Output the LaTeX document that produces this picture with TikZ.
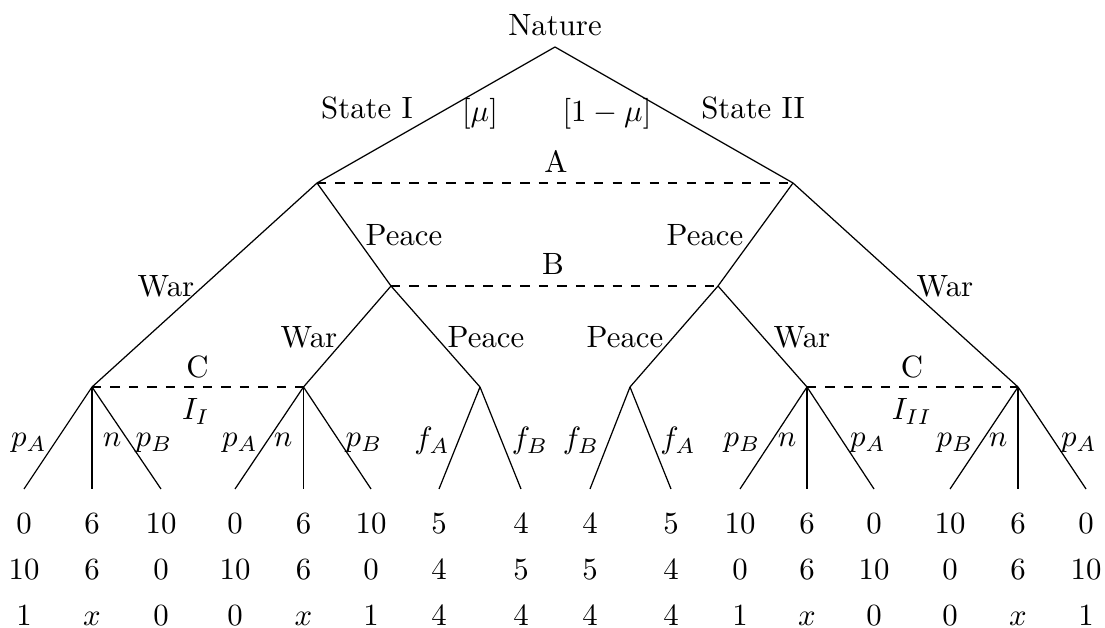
\documentclass[tikz,border=0pt]{standalone}
\usepackage{amsmath}
\usetikzlibrary{positioning}

\begin{document}
\begin{tikzpicture}[
    x=0.3247pt, y=-0.3247pt,
    branch/.style={draw},
    infoset/.style={draw, dashed},
    lbl/.style={anchor=base, inner sep=0pt},
    pay/.style={anchor=base, inner sep=0pt},
]
\useasboundingbox (0,0) rectangle (1105,628);

% decision nodes
\coordinate (root) at (555,47);
\coordinate (aL) at (317,183);
\coordinate (aR) at (793,183);
\coordinate (bL) at (391,286);
\coordinate (bR) at (718,286);
\coordinate (cL) at (92,387);
\coordinate (wL) at (303.5,387);
\coordinate (pL) at (480,387);
\coordinate (pR) at (630,387);
\coordinate (wR) at (807,387);
\coordinate (cR) at (1018,387);

\node[above=0pt of root] (nature) {Nature};

% branches
\foreach \p/\c in {root/aL, root/aR, aL/cL, aL/bL, aR/bR, aR/cR, bL/wL, bL/pL, bR/pR, bR/wR}
    \draw[branch] (\p) -- (\c);

% information sets
\draw[infoset] (aL) -- (aR);
\draw[infoset] (bL) -- (bR);
\draw[infoset] (cL) -- (wL);
\draw[infoset] (wR) -- (cR);

% labels of moves and sets
\node[lbl] (stateI) at (367,119) {State I};
\node[lbl] (probI) at (480,122) {$[\mu]$};
\node[lbl] (probII) at (607,122) {$[1-\mu]$};
\node[lbl] (stateII) at (753,119) {State II};
\node[lbl] (setA) at (556,173) {A};
\node[lbl] (setB) at (553,275) {B};
\node[lbl] (setCL) at (197.5,378) {C};
\node[lbl] (setCR) at (912,378) {C};
\node[lbl] (infoI) at (196,420) {$I_I$};
\node[lbl] (infoII) at (912,420) {$I_{II}$};
\node[lbl] (peaceL) at (404,246) {Peace};
\node[lbl] (peaceR) at (705,246) {Peace};
\node[lbl] (warL) at (166,297) {War};
\node[lbl] (warR) at (945,297) {War};
\node[lbl] (warLL) at (309,348) {War};
\node[lbl] (peaceLL) at (486,348) {Peace};
\node[lbl] (peaceRR) at (625,348) {Peace};
\node[lbl] (warRR) at (802,348) {War};

% last moves
\foreach \k/\x/\y/\t in {1/29/447/p_A, 2/112/447/n, 3/154/447/p_B, 4/240/447/p_A,
    5/283/447/n, 6/364/447/p_B, 7/432/449/f_A, 8/530/449/f_B,
    9/581/449/f_B, 10/678/449/f_A, 11/742/447/p_B, 12/787/447/n,
    13/868/447/p_A, 14/955/447/p_B, 15/998/447/n, 16/1079/447/p_A}
    \node[lbl] (move\k) at (\x,\y) {$\t$};

% leaves and payoffs
\foreach \n/\x/\p/\u/\v/\w in {1/24/cL/0/10/1, 2/92/cL/6/6/x, 3/161/cL/10/0/0,
    4/235/wL/0/10/0, 5/303.5/wL/6/6/x, 6/371/wL/10/0/1,
    7/439/pL/5/4/4, 8/521/pL/4/5/4, 9/590/pR/4/5/4, 10/671/pR/5/4/4,
    11/740/wR/10/0/1, 12/807/wR/6/6/x, 13/874/wR/0/10/0,
    14/950/cR/10/0/0, 15/1018/cR/6/6/x, 16/1086/cR/0/10/1}{
    \coordinate (leaf\n) at (\x,489);
    \draw[branch] (\p) -- (leaf\n);
    \node[pay] (payA\n) at (\x,534) {$\u$};
    \node[pay] (payB\n) at (\x,580) {$\v$};
    \node[pay] (payC\n) at (\x,626) {$\w$};
}

\end{tikzpicture}
\end{document}
